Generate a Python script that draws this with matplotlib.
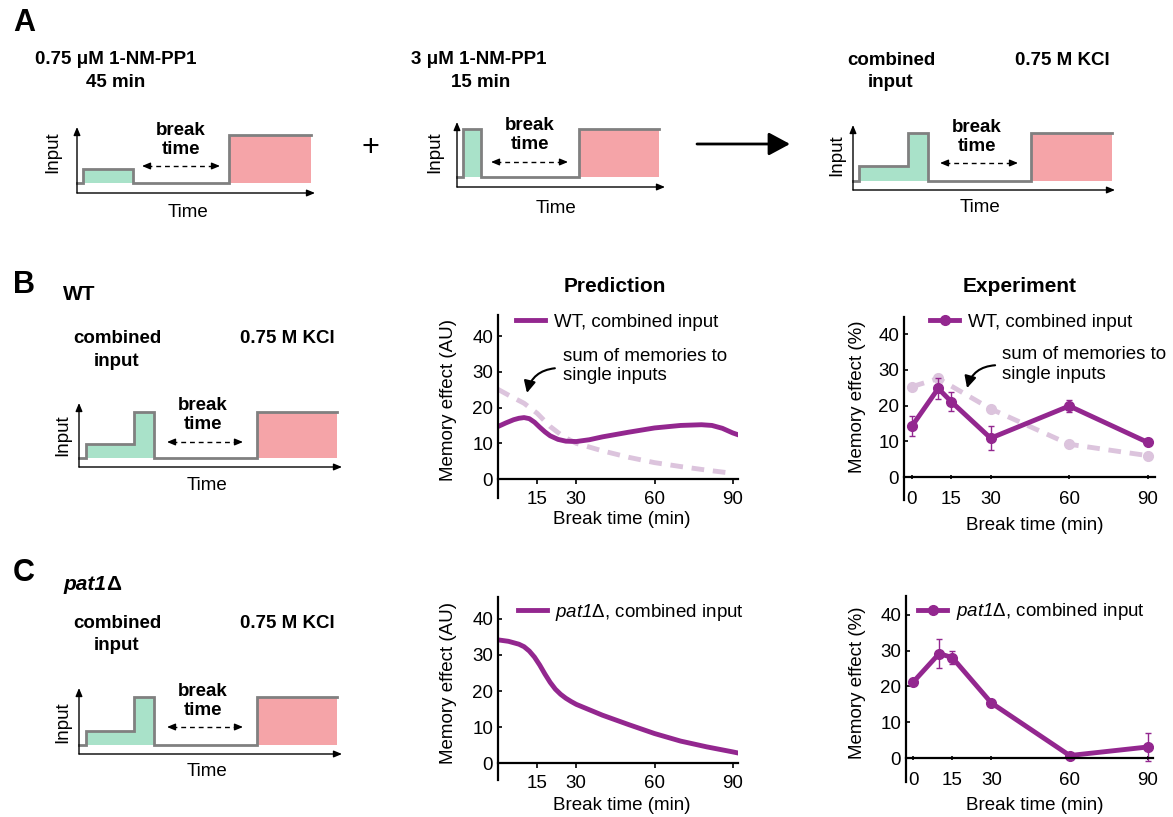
import matplotlib.pyplot as plt

plt.rcParams['font.family'] = ['Liberation Sans', 'DejaVu Sans']
plt.rcParams['mathtext.fontset'] = 'custom'
# math text is only used for the italic gene name in legends
plt.rcParams['mathtext.rm'] = 'Liberation Sans:italic'
plt.rcParams['mathtext.it'] = 'Liberation Sans:italic'
plt.rcParams['mathtext.bf'] = 'Liberation Sans:bold'

# ---- data ----
# model predictions (break time in min)
wt_pred_t = [0, 3, 6, 8, 10, 12, 14, 16, 18, 20, 23, 26, 30, 35, 40, 50, 60, 70, 78,
             82, 86, 90, 92]
wt_pred = [14.7, 15.7, 16.6, 17.0, 17.2, 16.9, 15.9, 14.5, 13.2, 12.1, 11.1, 10.6, 10.5,
           11.0, 11.8, 13.1, 14.3, 15.0, 15.2, 15.0, 14.2, 12.9, 12.4]
sum_pred_t = [0, 5, 10, 15, 20, 25, 30, 40, 50, 60, 70, 80, 90]
sum_pred = [25.1, 23.1, 21.2, 18.4, 14.7, 11.9, 10.0, 7.9, 6.1, 4.6, 3.5, 2.5, 1.6]
pat1_pred_t = [0, 4, 8, 10, 12, 14, 16, 18, 20, 22, 24, 26, 28, 30, 40, 50, 60, 70, 80,
               90, 92]
pat1_pred = [34.2, 33.8, 33.0, 32.3, 31.1, 29.4, 27.2, 24.7, 22.4, 20.5, 19.1, 18.0, 17.1,
             16.3, 13.3, 10.7, 8.2, 6.1, 4.5, 3.1, 2.8]

# experiments
exp_t = [0, 10, 15, 30, 60, 90]
wt_exp = [14.3, 24.8, 21.1, 10.9, 19.9, 9.7]
wt_err = [2.9, 3.0, 2.6, 3.4, 1.7, 0.4]
sum_exp_t = [0, 10, 30, 60, 90]
sum_exp = [25.3, 27.6, 19.1, 9.2, 6.0]
pat1_exp = [21.2, 29.2, 28.1, 15.4, 0.7, 3.1]
pat1_err = [0.3, 4.0, 1.8, 0.5, 0.3, 3.9]

pred_ticks = [15, 30, 60, 90]
exp_ticks = [0, 15, 30, 60, 90]
y_ticks = [0, 10, 20, 30, 40]

# ---- style ----
W, H = 1173, 817
PURPLE = '#93278f'
LIGHT = '#dcc4dd'
GREEN = '#a9e2c9'
RED = '#f5a4a8'
GRAY = '#808080'
FS = 13.5

fig = plt.figure(figsize=(W / 100, H / 100), dpi=100)

# overlay in pixel coordinates for the schematics and free text
ov = fig.add_axes([0, 0, 1, 1])
ov.set_xlim(0, W)
ov.set_ylim(H, 0)
ov.axis('off')

small_head = dict(arrowstyle='-|>,head_length=0.6,head_width=0.25', color='k',
                  lw=1, mutation_scale=8, shrinkA=0, shrinkB=0)


def schematic(s):
    ox, oy = s['origin']
    b = s['base']
    t, lv, fills = s['t'], s['levels'], s['fills']
    xs, ys = [], []
    for i, level in enumerate(lv):
        x0, x1 = ox + t[i], ox + t[i + 1]
        y = oy - b - level
        xs += [x0, x1]
        ys += [y, y]
        if fills[i]:
            ov.fill_between([x0, x1], oy - b, y, color=fills[i], lw=0)
    ov.plot(xs, ys, color=GRAY, lw=2, solid_joinstyle='miter')
    # axes
    ov.annotate('', xy=(ox + s['xlen'], oy), xytext=(ox, oy), arrowprops=small_head)
    ov.annotate('', xy=(ox, oy - s['ylen']), xytext=(ox, oy), arrowprops=small_head)
    ix, iy = s['input_lbl']
    ov.text(ox + ix, oy + iy, 'Input', rotation=90, ha='center', va='center', fontsize=FS)
    tx, ty = s['time_lbl']
    ov.text(ox + tx, oy + ty, 'Time', ha='center', va='center', fontsize=FS)
    # break time
    bx, by = s['break_lbl']
    ov.text(ox + bx, oy + by, 'break\ntime', ha='center', va='center',
            fontsize=FS, fontweight='bold', linespacing=1.15)
    a0, a1, ay = s['break_arrow']
    ov.plot([ox + a0 + 5, ox + a1 - 5], [oy + ay, oy + ay], color='k', lw=1,
            ls=(0, (3.5, 2.8)))
    ov.annotate('', xy=(ox + a0, oy + ay), xytext=(ox + a0 + 7, oy + ay), arrowprops=small_head)
    ov.annotate('', xy=(ox + a1, oy + ay), xytext=(ox + a1 - 7, oy + ay), arrowprops=small_head)


combined_steps = dict(base=9, t=[0, 7, 55, 75, 178, 258], fills=[None, GREEN, GREEN, None, RED],
                      xlen=263, input_lbl=(-16, -32), time_lbl=(128, 18),
                      break_lbl=(124, -52), break_arrow=(88, 164, -25))
schemes = [
    dict(origin=(77, 193), base=10, t=[0, 6, 56, 152, 234], levels=[0, 14, 0, 48],
         fills=[None, GREEN, None, RED], xlen=238, ylen=66, input_lbl=(-24, -41),
         time_lbl=(111, 19), break_lbl=(104, -53), break_arrow=(65, 143, -27)),
    dict(origin=(457, 187), base=10, t=[0, 6, 24, 122, 202], levels=[0, 48, 0, 48],
         fills=[None, GREEN, None, RED], xlen=208, ylen=65, input_lbl=(-22, -35),
         time_lbl=(99, 21), break_lbl=(73, -52), break_arrow=(34, 111, -25)),
    dict(origin=(853, 190), base=9, t=[0, 6, 55, 75, 178, 259], levels=[0, 15, 48, 0, 48],
         fills=[None, GREEN, GREEN, None, RED], xlen=262, ylen=65, input_lbl=(-16, -35),
         time_lbl=(127, 17), break_lbl=(124, -53), break_arrow=(87, 165, -27)),
    dict(combined_steps, origin=(79, 467), levels=[0, 14, 46, 0, 46], ylen=64),
    dict(combined_steps, origin=(79, 754), levels=[0, 14, 48, 0, 48], ylen=66,
         break_lbl=(124, -53), break_arrow=(88, 164, -27)),
]
for s in schemes:
    schematic(s)

# panel letters and headings
for letter, y in [('A', 23), ('B', 285), ('C', 573)]:
    ov.text(13, y, letter, fontsize=22, fontweight='bold', ha='left', va='center')

bold = dict(fontsize=FS, fontweight='bold', ha='center', va='center')
ov.text(116, 59, '0.75 μM 1-NM-PP1', **bold)
ov.text(116, 82, '45 min', **bold)
ov.text(479, 59, '3 μM 1-NM-PP1', **bold)
ov.text(481, 82, '15 min', **bold)
ov.text(891, 60, 'combined', **bold)
ov.text(891, 82, 'input', **bold)
ov.text(1062, 60, '0.75 M KCl', **bold)
for yy in (338, 623):
    ov.text(117, yy, 'combined', **bold)
    ov.text(117, yy + 23, 'input', **bold)
    ov.text(287, yy, '0.75 M KCl', **bold)

ov.text(370, 148, '+', fontsize=22, ha='center', va='center')
ov.annotate('', xy=(790, 144), xytext=(697, 144),
            arrowprops=dict(arrowstyle='-|>,head_length=0.65,head_width=0.35', color='k',
                            lw=2, mutation_scale=20, shrinkA=0, shrinkB=0))

ov.text(63, 295, 'WT', fontsize=15, fontweight='bold', ha='left', va='center')
t1 = ov.text(63, 585, 'pat1', fontsize=15, fontweight='bold', fontstyle='italic',
             ha='left', va='center')
ov.annotate('Δ', xy=(1, 0.5), xycoords=t1, fontsize=15, fontweight='bold',
            ha='left', va='center')

ov.text(615, 287, 'Prediction', fontsize=15, fontweight='bold', ha='center', va='center')
ov.text(1020, 287, 'Experiment', fontsize=15, fontweight='bold', ha='center', va='center')


def style_axes(ax, xlim, ylim, xticks, ylabel, xpad, ylab_xy, xlab_xy, tick_dir):
    ax.patch.set_alpha(0)
    ax.set_xlim(*xlim)
    ax.set_ylim(*ylim)
    ax.spines[['top', 'right']].set_visible(False)
    ax.spines['bottom'].set_position(('data', 0))
    ax.spines['left'].set_linewidth(1.6)
    ax.spines['bottom'].set_linewidth(1.6)
    ax.set_xticks(xticks)
    ax.set_yticks(y_ticks)
    ax.tick_params(axis='y', direction='in', length=3, width=1.2, pad=3.5, labelsize=FS)
    ax.tick_params(axis='x', direction=tick_dir, length=3.5, width=1.2, pad=xpad, labelsize=FS)
    ax.set_ylabel(ylabel, fontsize=FS, va='center')
    ax.set_xlabel('Break time (min)', fontsize=FS, va='center')
    ax.yaxis.set_label_coords(*ylab_xy)
    ax.xaxis.set_label_coords(*xlab_xy)


leg_kw = dict(loc='center left', frameon=False, handlelength=1.55, handletextpad=0.45,
              borderpad=0, borderaxespad=0, fontsize=FS, numpoints=1)
note = 'sum of memories to\nsingle inputs'
arrow_kw = dict(arrowstyle='-|>,head_length=0.5,head_width=0.25', color='k', lw=1.5,
                mutation_scale=14, connectionstyle='arc3,rad=0.35', shrinkA=0, shrinkB=0)
pat1_label = r'$\mathrm{pat1}$Δ, combined input'

# B prediction
ax = fig.add_axes([498 / W, 319 / H, 240 / W, 183 / H])
ax.plot(sum_pred_t, sum_pred, color=LIGHT, lw=3.5, ls=(0, (2.6, 1.8)))
ax.plot(wt_pred_t, wt_pred, color=PURPLE, lw=3.5, label='WT, combined input')
style_axes(ax, (0, 92), (-5.3, 45.9), pred_ticks, 'Memory effect (AU)', 5,
           (-0.208, 0.536), (0.517, -0.120), 'out')
ax.legend(bbox_to_anchor=(0.075, 0.962), **leg_kw)
ax.text(24.9, 31.6, note, fontsize=FS, ha='left', va='center', linespacing=1.2)
ax.annotate('', xy=(11.1, 24.1), xytext=(21.8, 31.0), arrowprops=arrow_kw)

# B experiment
ax = fig.add_axes([904 / W, 317 / H, 251 / W, 183 / H])
ax.plot(sum_exp_t, sum_exp, color=LIGHT, lw=3.5, ls=(0, (2.6, 1.8)), marker='o', ms=7)
ax.errorbar(exp_t, wt_exp, yerr=wt_err, fmt='none', ecolor=PURPLE, elinewidth=1, capsize=2.5)
ax.plot(exp_t, wt_exp, color=PURPLE, lw=3.5, marker='o', ms=7, label='WT, combined input')
style_axes(ax, (-3.05, 92.7), (-6.4, 44.8), exp_ticks, 'Memory effect (%)', 8.5,
           (-0.187, 0.563), (0.522, -0.137), 'inout')
ax.legend(bbox_to_anchor=(0.104, 0.973), **leg_kw)
ax.text(34.3, 31.5, note, fontsize=FS, ha='left', va='center', linespacing=1.2)
ax.annotate('', xy=(21.0, 24.9), xytext=(31.7, 31.3), arrowprops=arrow_kw)

# C prediction
ax = fig.add_axes([498 / W, 37 / H, 240 / W, 183 / H])
ax.plot(pat1_pred_t, pat1_pred, color=PURPLE, lw=3.5, label=pat1_label)
style_axes(ax, (0, 92), (-4.7, 46.1), pred_ticks, 'Memory effect (AU)', 5,
           (-0.208, 0.530), (0.517, -0.137), 'out')
ax.legend(bbox_to_anchor=(0.083, 0.918), **leg_kw)

# C experiment
ax = fig.add_axes([906 / W, 35 / H, 247 / W, 186 / H])
ax.errorbar(exp_t, pat1_exp, yerr=pat1_err, fmt='none', ecolor=PURPLE, elinewidth=1, capsize=2.5)
ax.plot(exp_t, pat1_exp, color=PURPLE, lw=3.5, marker='o', ms=7, label=pat1_label)
style_axes(ax, (-2.7, 91.9), (-6.7, 45.3), exp_ticks, 'Memory effect (%)', 8.5,
           (-0.198, 0.532), (0.522, -0.124), 'inout')
ax.legend(bbox_to_anchor=(0.049, 0.914), **leg_kw)

fig.savefig('out.png', dpi=100)
